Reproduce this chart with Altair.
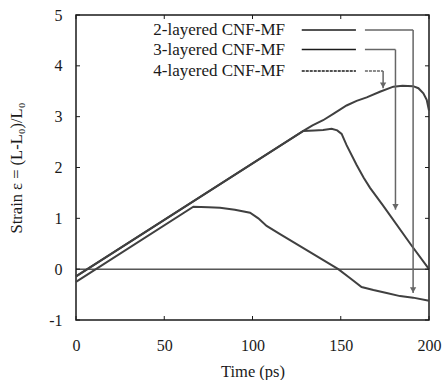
import altair as alt
import pandas as pd

# ---- strain histories (time in ps, strain) ----
series_names = ["2-layered CNF-MF", "3-layered CNF-MF", "4-layered CNF-MF"]

t_2 = [0, 66.5, 75, 81.6, 90, 98.6, 103.3, 108, 115.6, 130, 148.6, 155, 161.8,
       168.5, 176, 183.6, 191, 200]
s_2 = [-0.25, 1.23, 1.22, 1.21, 1.17, 1.11, 1.0, 0.85, 0.69, 0.39, 0.0, -0.17,
       -0.35, -0.41, -0.47, -0.53, -0.56, -0.62]

t_3 = [0, 128.8, 135, 140, 144.8, 148, 150.5, 153.3, 159, 163, 166.6, 174, 190, 200]
s_3 = [-0.14, 2.72, 2.73, 2.74, 2.76, 2.73, 2.66, 2.44, 2.05, 1.80, 1.60, 1.25,
       0.47, 0.0]

t_4 = [0, 128.8, 134, 140, 146, 153.3, 159, 164.7, 172.2, 179.8, 185, 191, 194,
       196.8, 198.7, 200]
s_4 = [-0.14, 2.72, 2.83, 2.93, 3.06, 3.22, 3.31, 3.38, 3.49, 3.59, 3.61, 3.60,
       3.56, 3.46, 3.33, 3.12]

x_ticks = [0, 50, 100, 150, 200]
y_ticks = [-1, 0, 1, 2, 3, 4, 5]

rows = []
for name, ts, ss in zip(series_names, [t_2, t_3, t_4], [s_2, s_3, s_4]):
    for i, (t, s) in enumerate(zip(ts, ss)):
        rows.append({"series": name, "order": i, "time": t, "strain": s})
curves_df = pd.DataFrame(rows)

# ---- annotation layout: label row, sample line, connector and arrow tip ----
label_y = [4.705, 4.32, 3.90]
arrow_x = [191, 181, 174]
arrow_tip = [-0.47, 1.17, 3.56]
sample_x = (127.9, 158.6)
connector_start = 163.7
text_right = 118.4

ann = pd.DataFrame({
    "series": series_names,
    "ly": label_y,
    "ax": arrow_x,
    "tip": arrow_tip,
    "sx0": [sample_x[0]] * 3,
    "sx1": [sample_x[1]] * 3,
    "cx0": [connector_start] * 3,
    "tx": [text_right] * 3,
    "dash": ["solid", "solid", "dash"],
})

W, H = 353, 305
FONT = "'Liberation Serif', 'Times New Roman', 'DejaVu Serif', serif"
INK = "#1a1a1a"
CURVE = "#404040"
ARROW = "#666666"

xs = alt.Scale(domain=[0, 200], nice=False, zero=False)
ys = alt.Scale(domain=[-1, 5], nice=False, zero=False)

x_axis = alt.Axis(values=x_ticks, title="Time (ps)", grid=False, domain=False,
                  ticks=False, labelPadding=17, titlePadding=10,
                  labelFlush=False)
y_axis = alt.Axis(values=y_ticks, title="Strain ε = (L-L₀)/L₀", grid=False,
                  domain=False, ticks=False, labelPadding=14, titlePadding=24,
                  labelExpr="'' + datum.value")

base = alt.Chart(curves_df)

curves = base.mark_line(strokeWidth=2, color=CURVE).encode(
    x=alt.X("time:Q", scale=xs, axis=x_axis),
    y=alt.Y("strain:Q", scale=ys, axis=y_axis),
    detail="series:N",
    order="order:Q",
)

zero_line = alt.Chart(pd.DataFrame({"y": [0]})).mark_rule(
    color="#000000", strokeWidth=1
).encode(y=alt.Y("y:Q", scale=ys))

# inward tick marks on all four sides
xt = pd.DataFrame({"v": x_ticks})
yt = pd.DataFrame({"v": y_ticks})
tick_style = dict(color=INK, strokeWidth=1)
ticks_bottom = alt.Chart(xt).mark_rule(**tick_style).encode(
    x=alt.X("v:Q", scale=xs), y=alt.value(H), y2=alt.value(H - 4))
ticks_top = alt.Chart(xt).mark_rule(**tick_style).encode(
    x=alt.X("v:Q", scale=xs), y=alt.value(0), y2=alt.value(4))
ticks_left = alt.Chart(yt).mark_rule(**tick_style).encode(
    y=alt.Y("v:Q", scale=ys), x=alt.value(0), x2=alt.value(4))
ticks_right = alt.Chart(yt).mark_rule(**tick_style).encode(
    y=alt.Y("v:Q", scale=ys), x=alt.value(W), x2=alt.value(W - 4))

abase = alt.Chart(ann)

labels = abase.mark_text(align="right", baseline="middle", font=FONT,
                         fontSize=17, color=INK).encode(
    x=alt.X("tx:Q", scale=xs), y=alt.Y("ly:Q", scale=ys), text="series:N")

dash_scale = alt.Scale(domain=["solid", "dash"], range=[[1, 0], [3, 1]])

samples = abase.mark_rule(color=INK, strokeWidth=1.5).encode(
    x=alt.X("sx0:Q", scale=xs), x2="sx1:Q", y=alt.Y("ly:Q", scale=ys),
    strokeDash=alt.StrokeDash("dash:N", scale=dash_scale, legend=None))

connectors = abase.mark_rule(color=ARROW, strokeWidth=1.5).encode(
    x=alt.X("cx0:Q", scale=xs), x2="ax:Q", y=alt.Y("ly:Q", scale=ys),
    strokeDash=alt.StrokeDash("dash:N", scale=dash_scale, legend=None))

shafts = abase.mark_rule(color=ARROW, strokeWidth=1.5).encode(
    x=alt.X("ax:Q", scale=xs), y=alt.Y("ly:Q", scale=ys), y2="tip:Q")

heads = abase.mark_point(shape="triangle-down", filled=True, size=40,
                         opacity=1, color=ARROW, yOffset=-3).encode(
    x=alt.X("ax:Q", scale=xs), y=alt.Y("tip:Q", scale=ys))

chart = alt.layer(
    zero_line, curves, ticks_bottom, ticks_top, ticks_left, ticks_right,
    samples, connectors, shafts, heads, labels
).properties(
    width=W, height=H,
    autosize=alt.AutoSizeParams(type="none"),
    padding={"left": 76, "top": 15, "right": 15, "bottom": 60},
    background="white",
).configure_view(
    stroke=INK, strokeWidth=1.5
).configure_axis(
    labelFont=FONT, labelFontSize=16, labelColor=INK,
    titleFont=FONT, titleFontSize=16.5, titleColor=INK, titleFontWeight="normal",
)

chart.save("out.html", embed_options={"renderer": "svg", "actions": False})
